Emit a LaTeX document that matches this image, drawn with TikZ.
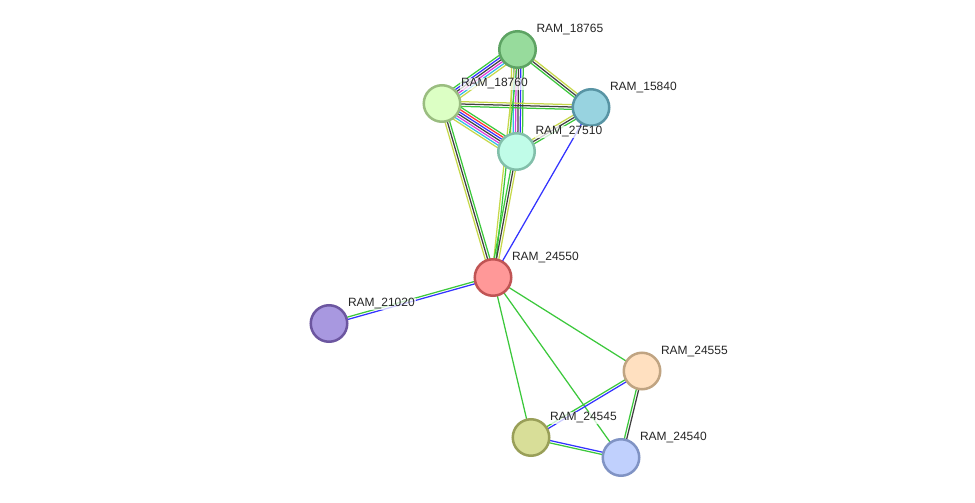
\documentclass[tikz,border=0pt]{standalone}
\usepackage{fontspec}
\setmainfont{Liberation Sans}
\usetikzlibrary{calc,backgrounds}
\definecolor{eg}{HTML}{3CC83C}
\definecolor{ey}{HTML}{C6D84A}
\definecolor{ek}{HTML}{404040}
\definecolor{eb}{HTML}{3333FF}
\definecolor{em}{HTML}{DD3DDD}
\definecolor{ec}{HTML}{33BBE5}
\definecolor{er}{HTML}{FF3333}
\definecolor{fA}{HTML}{97DB9C}\definecolor{dA}{HTML}{5DA363}
\definecolor{fB}{HTML}{DCFFC4}\definecolor{dB}{HTML}{9ABD80}
\definecolor{fC}{HTML}{98D3E0}\definecolor{dC}{HTML}{5894A4}
\definecolor{fD}{HTML}{C0FCE8}\definecolor{dD}{HTML}{82BFAA}
\definecolor{fE}{HTML}{FF9898}\definecolor{dE}{HTML}{C05454}
\definecolor{fF}{HTML}{A898E0}\definecolor{dF}{HTML}{6C56A0}
\definecolor{fG}{HTML}{FFE0C0}\definecolor{dG}{HTML}{C0A482}
\definecolor{fH}{HTML}{D8DE98}\definecolor{dH}{HTML}{999F58}
\definecolor{fI}{HTML}{C0D0FD}\definecolor{dI}{HTML}{8093C4}
\newcommand\stredge[4]{%
  \foreach \cc [count=\ii] in {#4} {%
    \pgfmathsetmacro\off{(\ii-(#3+1)/2)*2.35}%
    \draw[line width=1.25pt,draw=\cc] ($(#1.center)!\off pt!90:(#2.center)$) -- ($(#2.center)!\off pt!-90:(#1.center)$);
  }}
\tikzset{
  prot/.style={circle,minimum size=36.5pt,inner sep=0pt,line width=2.5pt},
  lbl/.style={anchor=base west,inner sep=0.8pt,fill=white,fill opacity=0.75,text opacity=1,text=black!85,font=\fontsize{12}{14}\selectfont}
}
\begin{document}
\begin{tikzpicture}[x=1pt,y=-1pt]
\useasboundingbox (0,0) rectangle (975,503);
% nodes
\node[prot,fill=fA,draw=dA] (n18765) at (517.5,49.5) {};
\node[prot,fill=fB,draw=dB] (n18760) at (442,103.5) {};
\node[prot,fill=fC,draw=dC] (n15840) at (591,107.5) {};
\node[prot,fill=fD,draw=dD] (n27510) at (516.5,151.5) {};
\node[prot,fill=fE,draw=dE] (n24550) at (493,277.5) {};
\node[prot,fill=fF,draw=dF] (n21020) at (329,323.5) {};
\node[prot,fill=fG,draw=dG] (n24555) at (642,371) {};
\node[prot,fill=fH,draw=dH] (n24545) at (531,437.5) {};
\node[prot,fill=fI,draw=dI] (n24540) at (621,457.5) {};
\begin{pgfonlayer}{background}
\stredge{n18760}{n18765}{6}{ey,ec,em,ek,eb,eg}
\stredge{n18760}{n27510}{7}{ey,ec,em,ek,eb,er,eg}
\stredge{n18765}{n27510}{6}{ey,ec,em,ek,eb,eg}
\stredge{n18760}{n15840}{3}{eg,ek,ey}
\stredge{n18765}{n15840}{3}{eg,ek,ey}
\stredge{n27510}{n15840}{3}{eg,ek,ey}
\stredge{n18765}{n24550}{2}{ey,eg}
\stredge{n18760}{n24550}{3}{ey,ek,eg}
\stredge{n27510}{n24550}{3}{eg,ek,ey}
\stredge{n15840}{n24550}{1}{eb}
\stredge{n21020}{n24550}{2}{eb,eg}
\stredge{n24550}{n24555}{1}{eg}
\stredge{n24550}{n24545}{1}{eg}
\stredge{n24550}{n24540}{1}{eg}
\stredge{n24545}{n24555}{2}{eb,eg}
\stredge{n24555}{n24540}{2}{eg,ek}
\stredge{n24545}{n24540}{2}{eg,eb}
\end{pgfonlayer}
% labels
\node[lbl] (l18765) at ($(n18765.center)+(18,-16.8)$) {RAM\_18765};
\node[lbl] (l18760) at ($(n18760.center)+(18,-16.8)$) {RAM\_18760};
\node[lbl] (l15840) at ($(n15840.center)+(18,-16.8)$) {RAM\_15840};
\node[lbl] (l27510) at ($(n27510.center)+(18,-16.8)$) {RAM\_27510};
\node[lbl] (l24550) at ($(n24550.center)+(18,-16.8)$) {RAM\_24550};
\node[lbl] (l21020) at ($(n21020.center)+(18,-16.8)$) {RAM\_21020};
\node[lbl] (l24555) at ($(n24555.center)+(18,-16.8)$) {RAM\_24555};
\node[lbl] (l24545) at ($(n24545.center)+(18,-16.8)$) {RAM\_24545};
\node[lbl] (l24540) at ($(n24540.center)+(18,-16.8)$) {RAM\_24540};
\end{tikzpicture}
\end{document}
